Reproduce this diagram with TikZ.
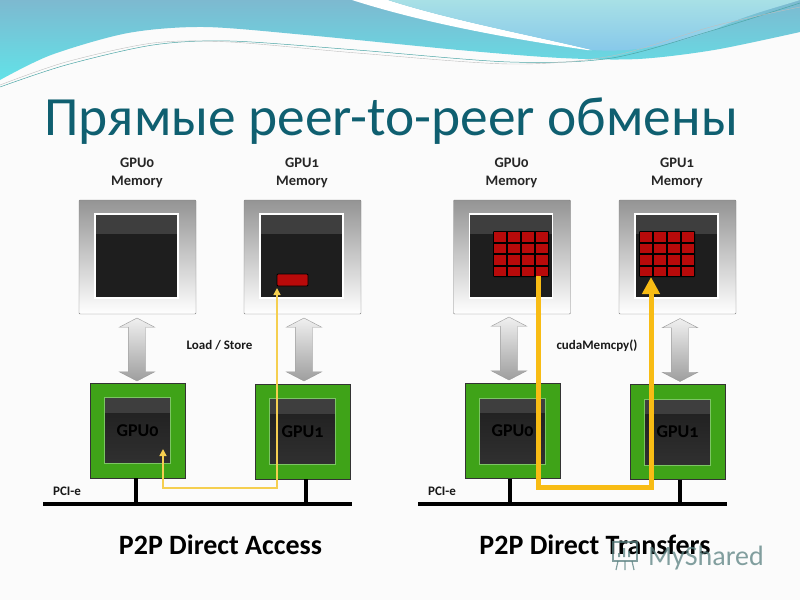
\documentclass[tikz,border=0pt]{standalone}
\usepackage{fontspec}
\setmainfont{Carlito}
\usetikzlibrary{arrows.meta,shapes.arrows}
\definecolor{paper}{HTML}{FBFBFB}
\definecolor{titleteal}{HTML}{0F5F70}
\definecolor{wavetop}{HTML}{7DB9D0}
\definecolor{wavelow}{HTML}{62E2E8}
\definecolor{palewave}{HTML}{A8E0E6}
\definecolor{palelow}{HTML}{86C8EA}
\definecolor{screendark}{HTML}{1E1E1E}
\definecolor{screenband}{HTML}{3E3E3E}
\definecolor{gpugreen}{HTML}{3FA318}
\definecolor{gpuedge}{HTML}{7CC564}
\definecolor{cellred}{HTML}{B80A0A}
\definecolor{linkyellow}{HTML}{F5CF50}
\definecolor{copyyellow}{HTML}{F8BC14}
\newcommand{\gpuname}[1]{GPU{\addfontfeature{Numbers=OldStyle}#1}}
\tikzset{
    memframe/.style={draw=gray,rounded corners=1pt,top color=black!42,bottom color=white,
        minimum width=117pt,minimum height=114pt,inner sep=0pt,outer sep=0pt},
    memscreen/.style={draw=white,line width=1.5pt,fill=screendark,minimum width=83pt,minimum height=84pt,
        inner sep=0pt,outer sep=0pt,path picture={
            \fill[screenband] (path picture bounding box.north west) rectangle ([yshift=-20pt]path picture bounding box.north east);}},
    gpuframe/.style={draw=black!80,line width=.8pt,fill=gpugreen,minimum width=95pt,minimum height=95pt,
        inner sep=0pt,outer sep=0pt},
    gpuscreen/.style={draw=gpuedge,line width=.8pt,top color=screendark,bottom color=screendark!92!white,minimum width=66pt,minimum height=66pt,
        inner sep=0pt,outer sep=0pt,font=\bfseries\fontsize{18}{18}\selectfont,text=black,path picture={
            \fill[screenband] (path picture bounding box.north west) rectangle ([yshift=-15pt]path picture bounding box.north east);}},
    memlink/.style={double arrow,shape border rotate=90,draw=gray!80,top color=black!6,bottom color=black!38,
        minimum height=63pt,minimum width=35pt,double arrow head extend=9pt,double arrow head indent=0pt,
        double arrow tip angle=125,inner sep=8.5pt,outer sep=0pt},
    busline/.style={line width=4pt,black},
    heading/.style={font=\bfseries\fontsize{14.5}{18}\selectfont,align=center,text=black!85},
    small/.style={font=\bfseries\fontsize{13}{15}\selectfont,text=black!90},
    caption/.style={font=\bfseries\fontsize{28}{30}\selectfont,text=black},
    thinlink/.style={linkyellow,line width=1.5pt,{Triangle[width=7pt,length=7pt]}-{Triangle[width=7pt,length=7pt]}},
    copylink/.style={copyyellow,line width=5pt,-{Triangle[width=17pt,length=17pt]}}
}
\begin{document}
\begin{tikzpicture}[x=1pt,y=-1pt]
    \useasboundingbox (0,0) rectangle (800,600);
    \fill[paper] (0,0) rectangle (800,600);
    % waves
    \shade[top color=wavetop,bottom color=wavelow] (0,0) -- (800,0) -- plot[smooth] coordinates {(800,32) (714,50) (638,59) (561,58) (459,50) (306,35) (204,27) (128,33) (51,55) (0,80)} -- cycle;
    \fill[white] (352,0) .. controls (430,25) and (520,40) .. (587,50) -- (592,50) .. controls (530,35) and (450,20) .. (388,0) -- cycle;
    \shade[top color=palewave,bottom color=palelow] (388,0) .. controls (450,20) and (530,35) .. (592,50) .. controls (620,52) and (660,50) .. (714,30) .. controls (745,15) and (775,8) .. (800,0) -- cycle;
    \draw[teal!70,line width=.5pt] plot[smooth] coordinates {(0,87) (66,65) (153,45) (230,41) (357,50) (510,62) (612,58) (714,30) (800,3)};
    \draw[gray!50,line width=.4pt] plot[smooth] coordinates {(0,85) (66,62) (153,43) (230,42) (357,53) (510,64) (612,56) (714,26) (800,7)};
    \node[anchor=base west,inner sep=0pt,text=titleteal,font=\fontsize{55.4}{60}\selectfont] (title) at (44,135) {Прямые peer-to-peer обмены};

    % memory
    \foreach \id/\cx/\lx/\num in {A/137.5/136.5/0,B/302.5/301.5/1,C/512/511/0,D/677.5/676.5/1} {
        \node[memframe] (mem\id) at (\cx,257) {};
        \node[memscreen] (memscreen\id) at (\lx,256) {};
        \node[heading] (memlabel\id) at (\lx+.5,172.5) {\gpuname{\num}\\Memory};
    }
    % gpu
    \foreach \id/\cx/\cy/\num in {A/137.5/430.5/0,B/302.5/431.5/1,C/512.5/431/0,D/677.5/432/1} {
        \node[gpuframe] (gpu\id) at (\cx,\cy) {};
        \node[gpuscreen] (core\id) at (\cx,\cy) {\gpuname{\num}};
    }
    \node[memlink] (linkA) at (137,349.5) {};
    \node[memlink] (linkB) at (304,349.5) {};
    \node[memlink] (linkC) at (509,348.5) {};
    \node[memlink] (linkD) at (680,350) {};

    % pci-e
    \coordinate (busAw) at (43,504);
    \coordinate (busAe) at (352,504);
    \coordinate (busCw) at (418,504);
    \coordinate (busCe) at (727,504);
    \coordinate (tapA) at (136,504);
    \coordinate (tapB) at (306,504);
    \coordinate (tapC) at (510,504);
    \coordinate (tapD) at (680,504);
    \draw[busline] (busAw) -- (busAe);
    \draw[busline] (busCw) -- (busCe);
    \draw[busline] (tapA |- gpuA.south) -- (tapA);
    \draw[busline] (tapB |- gpuB.south) -- (tapB);
    \draw[busline] (tapC |- gpuC.south) -- (tapC);
    \draw[busline] (tapD |- gpuD.south) -- (tapD);
    \node[small] (pciA) at (67,491) {PCI-e};
    \node[small] (pciC) at (442,491) {PCI-e};

    % red blocks
    \node[draw=black,line width=.8pt,fill=cellred,rounded corners=1pt,minimum width=31pt,minimum height=12pt,inner sep=0pt] (chipB) at (292.5,280) {};
    \foreach \gx in {493,639} {
        \fill[black,rounded corners=1pt] (\gx,231) rectangle (\gx+56,277);
        \foreach \col in {0,1,2,3}
            \foreach \row in {0,1,2,3}
                \fill[cellred] (\gx+14*\col+1,231+11.5*\row+1) rectangle (\gx+14*\col+13,231+11.5*\row+10.5);
    }

    % links
    \coordinate (accessA) at (163,449);
    \coordinate (accessturn) at (277,488);
    \coordinate (accessB) at (277,288);
    \draw[thinlink] (accessA) |- (accessturn) -- (accessB);
    \coordinate (copyA) at (538,276);
    \coordinate (copyturn) at (538,487);
    \coordinate (copyB) at (651,277);
    \draw[copylink] (copyA) -- (copyturn) -| (copyB);

    \node[small] (loadstore) at (219.5,345) {Load / Store};
    \node[small] (memcpy) at (597,346) {cudaMemcpy()};
    \node[caption] (accesscap) at (220.5,545) {P2P Direct Access};
    \node[caption] (transfercap) at (595,545) {P2P Direct Transfers};

    % watermark
    \begin{scope}[gray!70!teal,opacity=.75]
        \node[anchor=base west,inner sep=0pt,font=\fontsize{28}{28}\selectfont] (myshared) at (648,565) {MyShared};
        \draw[line width=1.6pt] (613,542) rectangle (637,561);
        \draw[line width=1.2pt] (618,561) -- (616,570) (625,561) -- (625,570) (632,561) -- (634,570);
        \fill (618,553) rectangle (620,557) (623,548) rectangle (625,557) (628,551) rectangle (630,557);
    \end{scope}
\end{tikzpicture}
\end{document}
